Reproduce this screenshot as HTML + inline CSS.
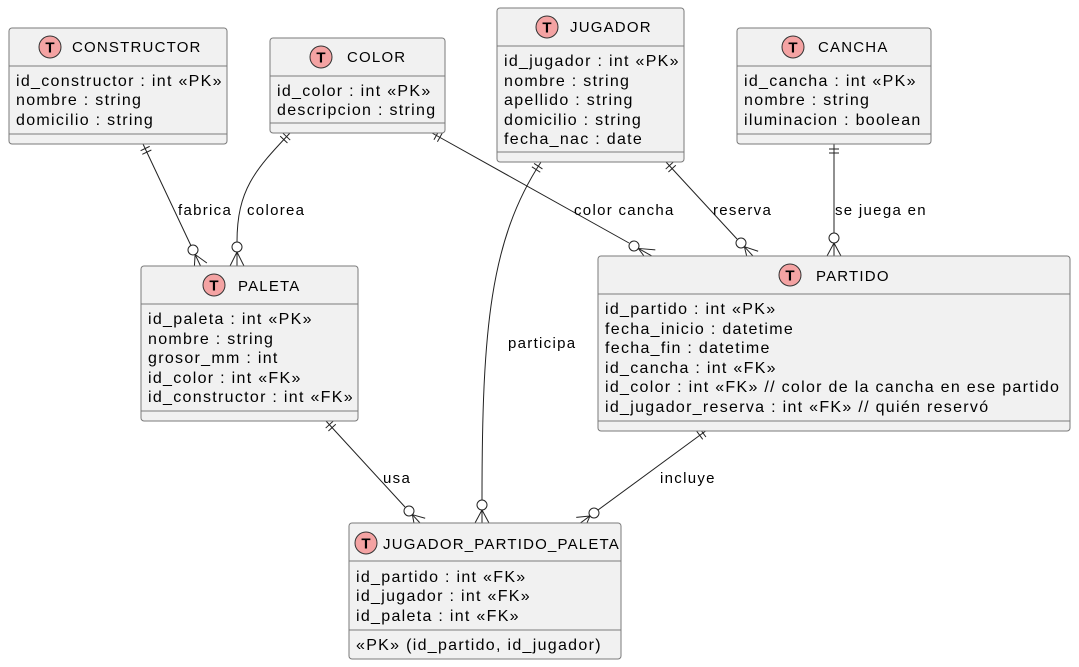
<!DOCTYPE html>
<html><head><meta charset="utf-8"><style>
html,body{margin:0;padding:0;background:#fff;}
svg{display:block;}
text{font-family:"Liberation Sans",sans-serif;font-size:16px;letter-spacing:1.3px;fill:#000;}
.t{font-size:15px;letter-spacing:1.2px;}
.lb{font-size:15px;letter-spacing:1.3px;}
.b{fill:#F1F1F1;stroke:#7a7a7a;stroke-width:1;}
.s{stroke:#7a7a7a;stroke-width:1;}
.l{fill:none;stroke:#222;stroke-width:1;}
.ic{fill:#F4A3A3;stroke:#333;stroke-width:1;}
.it{font-weight:bold;font-size:15px;letter-spacing:0;}
</style></head><body>
<svg id="g" width="1079" height="667" viewBox="0 0 1079 667" xmlns="http://www.w3.org/2000/svg">
<g class="l">
<path d="M143,144 L193,250"/>
<path d="M290,133 C255,170 237,190 237,242"/>
<path d="M432,133 L629,243"/>
<path d="M666,162 L737,239"/>
<path d="M834,144 L834,233"/>
<path d="M541,162 C490,240 482,330 482,500"/>
<path d="M326,421 L405,507"/>
<path d="M707,430 L598,510"/>
</g>
<g id="marks"></g>
<text class="lb" x="178" y="215">fabrica</text>
<text class="lb" x="247" y="215">colorea</text>
<text class="lb" x="574" y="215">color cancha</text>
<text class="lb" x="713" y="215">reserva</text>
<text class="lb" x="835" y="215">se juega en</text>
<text class="lb" x="508" y="348">participa</text>
<text class="lb" x="383" y="483">usa</text>
<text class="lb" x="660" y="483">incluye</text>

<rect class="b" x="9" y="28" width="218" height="116" rx="3"/>
<line class="s" x1="9" y1="66" x2="227" y2="66"/><line class="s" x1="9" y1="134" x2="227" y2="134"/>
<circle class="ic" cx="50" cy="47" r="11"/><text class="it" x="50" y="52.5" text-anchor="middle">T</text>
<text class="t" x="72" y="52">CONSTRUCTOR</text>
<text x="16" y="86">id_constructor : int «PK»</text>
<text x="16" y="105">nombre : string</text>
<text x="16" y="125">domicilio : string</text>

<rect class="b" x="270" y="38" width="175" height="95" rx="3"/>
<line class="s" x1="270" y1="76" x2="445" y2="76"/><line class="s" x1="270" y1="123" x2="445" y2="123"/>
<circle class="ic" cx="321" cy="57" r="11"/><text class="it" x="321" y="62.5" text-anchor="middle">T</text>
<text class="t" x="347" y="62">COLOR</text>
<text x="277" y="96">id_color : int «PK»</text>
<text x="277" y="115">descripcion : string</text>

<rect class="b" x="497" y="8" width="187" height="154" rx="3"/>
<line class="s" x1="497" y1="46" x2="684" y2="46"/><line class="s" x1="497" y1="152" x2="684" y2="152"/>
<circle class="ic" cx="547" cy="27" r="11"/><text class="it" x="547" y="32.5" text-anchor="middle">T</text>
<text class="t" x="570" y="32">JUGADOR</text>
<text x="504" y="66">id_jugador : int «PK»</text>
<text x="504" y="86">nombre : string</text>
<text x="504" y="105">apellido : string</text>
<text x="504" y="125">domicilio : string</text>
<text x="504" y="144">fecha_nac : date</text>

<rect class="b" x="737" y="28" width="194" height="116" rx="3"/>
<line class="s" x1="737" y1="66" x2="931" y2="66"/><line class="s" x1="737" y1="134" x2="931" y2="134"/>
<circle class="ic" cx="793" cy="47" r="11"/><text class="it" x="793" y="52.5" text-anchor="middle">T</text>
<text class="t" x="818" y="52">CANCHA</text>
<text x="744" y="86">id_cancha : int «PK»</text>
<text x="744" y="105">nombre : string</text>
<text x="744" y="125">iluminacion : boolean</text>

<rect class="b" x="141" y="266" width="217" height="155" rx="3"/>
<line class="s" x1="141" y1="304" x2="358" y2="304"/><line class="s" x1="141" y1="411" x2="358" y2="411"/>
<circle class="ic" cx="214" cy="285" r="11"/><text class="it" x="214" y="290.5" text-anchor="middle">T</text>
<text class="t" x="238" y="291">PALETA</text>
<text x="148" y="324">id_paleta : int «PK»</text>
<text x="148" y="344">nombre : string</text>
<text x="148" y="363">grosor_mm : int</text>
<text x="148" y="383">id_color : int «FK»</text>
<text x="148" y="402">id_constructor : int «FK»</text>

<rect class="b" x="598" y="256" width="472" height="175" rx="3"/>
<line class="s" x1="598" y1="294" x2="1070" y2="294"/><line class="s" x1="598" y1="421" x2="1070" y2="421"/>
<circle class="ic" cx="790" cy="275" r="11"/><text class="it" x="790" y="280.5" text-anchor="middle">T</text>
<text class="t" x="816" y="281">PARTIDO</text>
<text x="605" y="314">id_partido : int «PK»</text>
<text x="605" y="334">fecha_inicio : datetime</text>
<text x="605" y="353">fecha_fin : datetime</text>
<text x="605" y="373">id_cancha : int «FK»</text>
<text x="605" y="392">id_color : int «FK» // color de la cancha en ese partido</text>
<text x="605" y="412">id_jugador_reserva : int «FK» // quién reservó</text>

<rect class="b" x="349" y="523" width="272" height="136" rx="3"/>
<line class="s" x1="349" y1="561" x2="621" y2="561"/><line class="s" x1="349" y1="630" x2="621" y2="630"/>
<circle class="ic" cx="366" cy="543" r="11"/><text class="it" x="366" y="548.5" text-anchor="middle">T</text>
<text class="t" x="383" y="549">JUGADOR_PARTIDO_PALETA</text>
<text x="356" y="582">id_partido : int «FK»</text>
<text x="356" y="601">id_jugador : int «FK»</text>
<text x="356" y="621">id_paleta : int «FK»</text>
<text x="356" y="650">«PK» (id_partido, id_jugador)</text>
</svg>
<script>
(function(){
var g=document.getElementById('marks'),NS='http://www.w3.org/2000/svg';
function ln(a,b,c,d){var e=document.createElementNS(NS,'line');e.setAttribute('x1',a);e.setAttribute('y1',b);e.setAttribute('x2',c);e.setAttribute('y2',d);e.setAttribute('stroke','#222');g.appendChild(e);}
function nrm(x,y){var l=Math.sqrt(x*x+y*y);return [x/l,y/l];}
function rel(sx,sy,ax,ay,cx,cy,bx,by,ey){
 var d=nrm(ax,ay),n=[-d[1],d[0]];
 [5,9].forEach(function(t){var px=sx+d[0]*t,py=sy+d[1]*t;ln(px-n[0]*5,py-n[1]*5,px+n[0]*5,py+n[1]*5);});
 var e=nrm(bx,by),m=[-e[1],e[0]];
 var c=document.createElementNS(NS,'circle');c.setAttribute('cx',cx);c.setAttribute('cy',cy);c.setAttribute('r',5);c.setAttribute('fill','#fff');c.setAttribute('stroke','#222');g.appendChild(c);
 var Ax=cx+e[0]*5,Ay=cy+e[1]*5,t=(ey-cy)/e[1],Ex=cx+e[0]*t,Ey=ey;
 ln(Ax,Ay,Ex,Ey);ln(Ax,Ay,Ex+m[0]*7,Ey+m[1]*7);ln(Ax,Ay,Ex-m[0]*7,Ey-m[1]*7);
}
rel(143,144,50,106,193,250,50,106,266);
rel(290,133,-35,37,237,247,0,1,266);
rel(432,133,197,110,634,246,197,110,256);
rel(666,162,71,77,741,243,71,77,256);
rel(834,144,0,1,834,238,0,1,256);
rel(541,162,-51,78,482,505,0,1,523);
rel(326,421,79,86,409,511,79,86,523);
rel(707,430,-109,80,594,513,-109,80,523);
})();
</script>
</body></html>
